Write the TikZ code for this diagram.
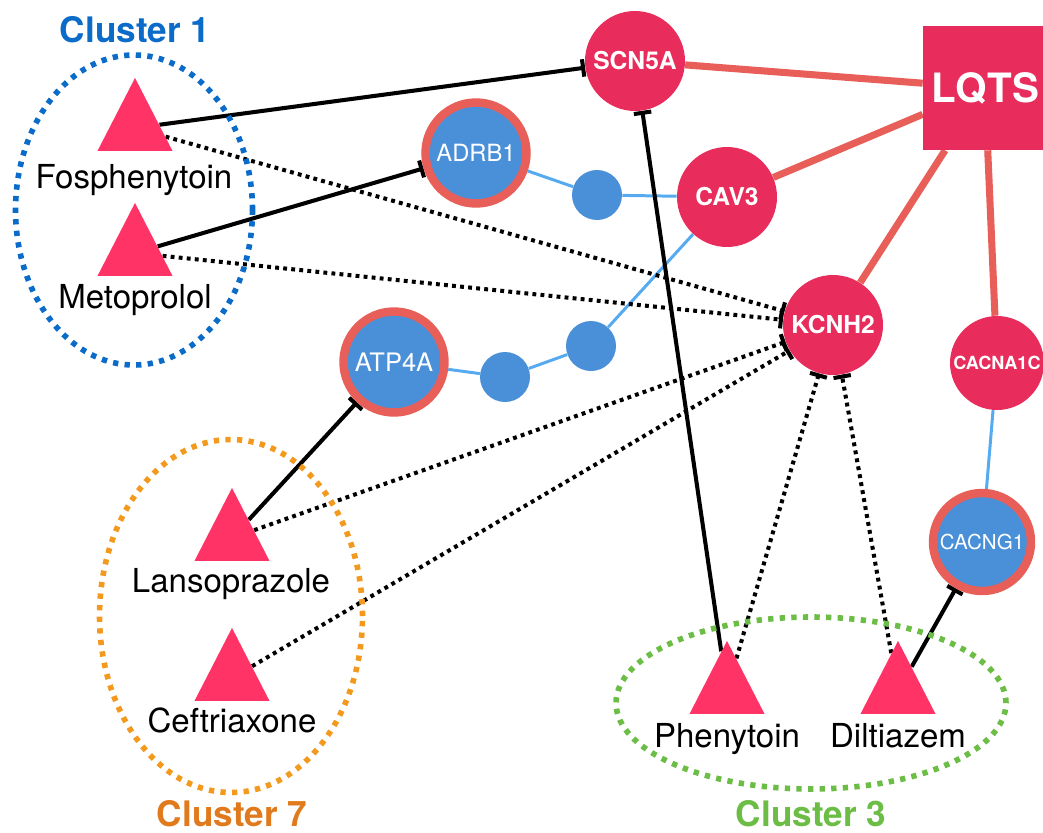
\documentclass[tikz,border=0pt]{standalone}
\usepackage{fontspec}
\setmainfont{TeX Gyre Heros}
\usetikzlibrary{shapes.geometric,arrows.meta,positioning,backgrounds}

\definecolor{genered}{HTML}{E82C5B}
\definecolor{drugpink}{HTML}{FF3366}
\definecolor{linkred}{HTML}{E85E58}
\definecolor{protblue}{HTML}{4A90D9}
\definecolor{linkblue}{HTML}{55AAF0}
\definecolor{clonecol}{HTML}{0B6BC8}
\definecolor{clsevencol}{HTML}{F39A1E}
\definecolor{clseventext}{HTML}{E07A1C}
\definecolor{clthreecol}{HTML}{6CBD45}

\tikzset{
  drug/.style={fill=drugpink,isosceles triangle,isosceles triangle stretches,shape border rotate=90,
    minimum width=1.5cm,minimum height=1.46cm,inner sep=0pt,anchor=apex},
  druglabel/.style={anchor=base,font=\fontsize{18.8}{18.8}\selectfont},
  gene/.style={circle,fill=genered,inner sep=0pt,minimum size=2cm,text=white,font=\bfseries\fontsize{14}{14}\selectfont},
  prot/.style={circle,fill=protblue,draw=linkred,line width=4.8pt,inner sep=0pt,minimum size=2.02cm,text=white},
  hub/.style={circle,fill=protblue,inner sep=0pt,minimum size=1cm},
  cluster/.style={ellipse,inner sep=0pt,line width=3.2pt,dash pattern=on 3pt off 3.6pt},
  clusterlabel/.style={anchor=base,font=\bfseries\fontsize{20}{20}\selectfont},
  disease/.style={linkred,line width=4pt},
  ppi/.style={linkblue,line width=1.7pt},
  inhibit/.style={line width=2.3pt,-{Bar[width=10pt]}},
  weak/.style={inhibit,dash pattern=on 2.2pt off 2.4pt},
}

\begin{document}
\begin{tikzpicture}[x=0.02cm,y=-0.02cm]
    \useasboundingbox (0,0) rectangle (1043,832);
    %% Clusters
    \node[cluster,draw=clonecol,minimum width=4.74cm,minimum height=6.2cm] (clone) at (134,210) {};
    \node[clusterlabel,text=clonecol] (clonelab) at (135,42) {Cluster 1};
    \node[cluster,draw=clsevencol,minimum width=5.26cm,minimum height=7.06cm] (clseven) at (231,616) {};
    \node[clusterlabel,text=clseventext] (clsevenlab) at (232,826) {Cluster 7};
    \node[cluster,draw=clthreecol,minimum width=7.8cm,minimum height=3.44cm] (clthree) at (811,703) {};
    \node[clusterlabel,text=clthreecol] (clthreelab) at (811,826) {Cluster 3};
    %% Drugs
    \node[drug] (fos) at (135,77) {};
    \node[druglabel] (foslab) at (134,188) {Fosphenytoin};
    \node[drug] (meto) at (135,202) {};
    \node[druglabel] (metolab) at (135,308) {Metoprolol};
    \node[drug] (lanso) at (232,487) {};
    \node[druglabel] (lansolab) at (231,592) {Lansoprazole};
    \node[drug] (ceft) at (232,627) {};
    \node[druglabel] (ceftlab) at (232,732) {Ceftriaxone};
    \node[drug] (pheny) at (727,640) {};
    \node[druglabel] (phenylab) at (727,747) {Phenytoin};
    \node[drug] (dilt) at (898,640) {};
    \node[druglabel] (diltlab) at (898,747) {Diltiazem};
    %% Genes and disease
    \node[rectangle,fill=genered,minimum size=2.48cm,text=white,font=\bfseries\fontsize{23}{23}\selectfont] (lqts) at (985,88) {LQTS};
    \node[gene] (scn) at (635,61) {SCN5A};
    \node[gene] (cav) at (727,197) {CAV3};
    \node[gene] (kcnh) at (833,325) {KCNH2};
    \node[gene,minimum size=1.88cm,font=\bfseries\fontsize{10.3}{10.3}\selectfont] (cacna) at (997,363) {CACNA1C};
    %% Targets
    \node[prot,font=\fontsize{13.5}{13.5}\selectfont] (adrb) at (476,153) {ADRB1};
    \node[prot,font=\fontsize{14.5}{14.5}\selectfont] (atp) at (394,362) {ATP4A};
    \node[prot,minimum size=1.96cm,font=\fontsize{11.7}{11.7}\selectfont] (cacng) at (982,542) {CACNG1};
    \node[hub] (hubone) at (597,195) {};
    \node[hub] (hubtwo) at (505,377) {};
    \node[hub] (hubthree) at (591,346) {};
    %% Links
    \begin{scope}[on background layer]
        \draw[disease] (scn) -- (lqts);
        \draw[disease] (cav) -- (lqts);
        \draw[disease] (kcnh) -- (lqts);
        \draw[disease] (cacna) -- (lqts);
        \draw[ppi] (adrb) -- (hubone) -- (cav);
        \draw[ppi] (atp) -- (hubtwo) -- (hubthree) -- (cav);
        \draw[ppi] (cacna) -- (cacng);
        \draw[inhibit] (fos) -- (scn);
        \draw[inhibit] (meto) -- (adrb);
        \draw[inhibit] (lanso) -- (atp);
        \draw[inhibit] (pheny) -- (scn);
        \draw[inhibit] (dilt) -- (cacng);
        \draw[weak] (fos) -- (kcnh);
        \draw[weak] (meto) -- (kcnh);
        \draw[weak] (lanso) -- (kcnh);
        \draw[weak] (ceft) -- (kcnh);
        \draw[weak] (pheny) -- (kcnh);
        \draw[weak] (dilt) -- (kcnh);
    \end{scope}
\end{tikzpicture}
\end{document}
